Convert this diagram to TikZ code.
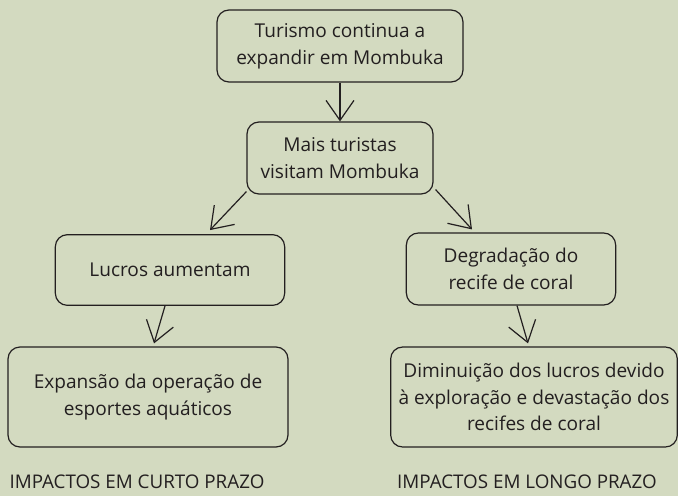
\documentclass[tikz,border=0pt]{standalone}
\usepackage{fontspec}
\setmainfont{Open Sans}
\usepackage{xcolor}
\usepackage{tikz}
\usetikzlibrary{arrows.meta,calc}
\definecolor{bgsage}{RGB}{211,218,192}
\definecolor{inkdark}{RGB}{35,31,32}

\begin{document}
\begin{tikzpicture}[x=0.75pt,y=-0.75pt,>={Straight Barb[length=15pt,width=21pt]},
  box/.style={draw=inkdark,line width=0.9pt,rounded corners=9pt,align=center,
    text=inkdark,font=\fontsize{14.3}{20}\selectfont,inner sep=0pt},
  link/.style={->,draw=inkdark,line width=0.9pt},
  caption/.style={text=inkdark,font=\fontsize{14.1}{17}\selectfont,inner sep=0pt}]
\fill[bgsage](0,0)rectangle(678,496);
\useasboundingbox(0,0)rectangle(678,496);
\node[box,minimum width=184.5pt,minimum height=54pt](turismo)at(340,46){Turismo continua a\\expandir em Mombuka};
\node[box,minimum width=139.5pt,minimum height=54pt](turistas)at(340,158){Mais turistas\\visitam Mombuka};
\node[box,minimum width=172pt,minimum height=53pt](lucros)at(170,270){Lucros aumentam};
\node[box,minimum width=157pt,minimum height=54pt](recife)at(511,269){Degradação do\\recife de coral};
\node[box,minimum width=210pt,minimum height=75pt](expansao)at(148,397){Expansão da operação de\\esportes aquáticos};
\node[box,minimum width=215pt,minimum height=75pt](diminui)at(534,397){Diminuição dos lucros devido\\à exploração e devastação dos\\recifes de coral};
\node[caption](curto)at(137,482){IMPACTOS EM CURTO PRAZO};
\node[caption](longo)at(527,482){IMPACTOS EM LONGO PRAZO};
\draw[link](turismo.south)--(turistas.north);
\draw[link]($(turistas.south west)+(0,-3)$)--($(lucros.north)+(40,-4)$);
\draw[link]($(turistas.south east)+(2,-5)$)--($(recife.north)+(-39,-3)$);
\draw[link]($(lucros.south)+(-5,0)$)--($(expansao.north)+(6,-3)$);
\draw[link]($(recife.south)+(6,0)$)--($(diminui.north)+(-6,-3)$);
\end{tikzpicture}
\end{document}
